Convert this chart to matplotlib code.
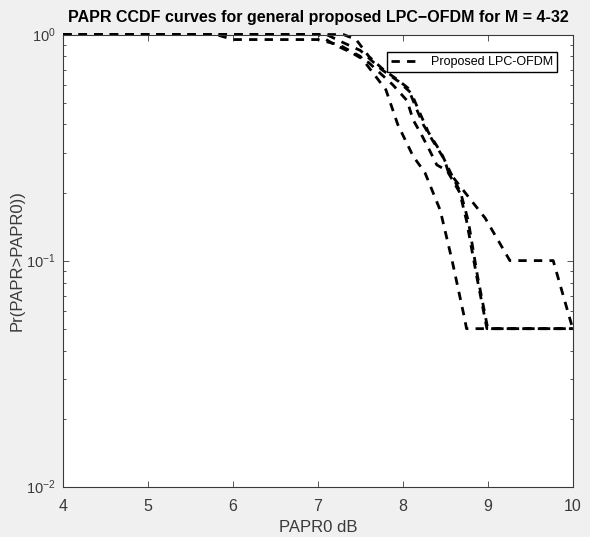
import matplotlib
matplotlib.use("Agg")
import matplotlib.pyplot as plt
from matplotlib.ticker import LogLocator, NullFormatter

plt.rcParams['font.family'] = ['Liberation Sans', 'DejaVu Sans']

# PAPR0 (dB) and CCDF values, one curve per M
papr_m4 = [4, 5.8, 6.0, 7.0, 7.25, 7.5, 7.8, 7.94, 8.12, 8.26, 8.44, 8.58, 8.72, 8.75, 10]
ccdf_m4 = [1, 1, 0.95, 0.95, 0.9, 0.8, 0.57, 0.40, 0.29, 0.245, 0.167, 0.10, 0.057, 0.05, 0.05]

papr_m8 = [4, 7.0, 7.2, 7.4, 7.6, 7.88, 8.05, 8.12, 8.22, 8.31, 8.40, 8.52, 8.67, 8.75, 8.87, 8.99, 10]
ccdf_m8 = [1, 1, 0.9, 0.83, 0.75, 0.60, 0.51, 0.42, 0.36, 0.31, 0.265, 0.25, 0.2, 0.15, 0.085, 0.05, 0.05]

papr_m16 = [4, 7.1, 7.3, 7.5, 7.75, 7.95, 8.1, 8.2, 8.3, 8.45, 8.55, 8.68, 8.77, 8.88, 9.0, 10]
ccdf_m16 = [1, 1, 0.92, 0.85, 0.7, 0.62, 0.55, 0.45, 0.37, 0.3, 0.25, 0.2, 0.15, 0.085, 0.05, 0.05]

papr_m32 = [4, 7.3, 7.45, 7.6, 7.77, 7.94, 8.06, 8.17, 8.24, 8.35, 8.49, 8.53, 8.71, 8.97, 9.26, 9.77, 10]
ccdf_m32 = [1, 1, 0.95, 0.8, 0.7, 0.63, 0.58, 0.46, 0.40, 0.34, 0.28, 0.25, 0.205, 0.154, 0.1, 0.1, 0.05]

curvas = [(papr_m4, ccdf_m4), (papr_m8, ccdf_m8), (papr_m16, ccdf_m16), (papr_m32, ccdf_m32)]

xticks = [4, 5, 6, 7, 8, 9, 10]

gris = "#f0f0f0"
tinta = "#3a3a3a"

fig = plt.figure(figsize=(5.9, 5.37), dpi=100, facecolor=gris)
ax = fig.add_axes([0.107, 0.0937, 0.8637, 0.842])
ax.set_facecolor("white")

for i, (x, y) in enumerate(curvas):
	etiqueta = "Proposed LPC-OFDM" if i == 0 else None
	ax.semilogy(x, y, color="black", linestyle="--", linewidth=2.0,
		dashes=(3, 2.6), label=etiqueta, clip_on=False)

ax.set_xlim(4, 10)
ax.set_ylim(1e-2, 1)
ax.set_xticks(xticks)
ax.yaxis.set_major_locator(LogLocator(base=10, numticks=5))
ax.yaxis.set_minor_locator(LogLocator(base=10, subs=range(2, 10), numticks=20))
ax.yaxis.set_minor_formatter(NullFormatter())

ax.tick_params(which="both", direction="in", top=True, right=True,
	colors=tinta)
ax.tick_params(axis="x", pad=9, labelsize=11.5)
ax.tick_params(axis="y", pad=5.5, labelsize=10.5)
ax.tick_params(which="major", length=4, width=0.6)
ax.tick_params(which="minor", length=2.5, width=0.6)
for s in ax.spines.values():
	s.set_color(tinta)
	s.set_linewidth(0.8)

ax.set_title("PAPR CCDF curves for general proposed LPC\u2212OFDM for M = 4-32",
	fontsize=11.5, fontweight="bold", pad=9)
ax.set_xlabel("PAPR0 dB", fontsize=12, color=tinta, labelpad=4)
ax.set_ylabel("Pr(PAPR>PAPR0))", fontsize=12, color=tinta, labelpad=1)

ax.legend(loc="upper right", bbox_to_anchor=(0.97, 0.962), fontsize=9,
	frameon=True, fancybox=False, edgecolor="black", framealpha=1,
	handlelength=2.0, borderpad=0.35, handletextpad=1.2, borderaxespad=0)

fig.savefig("out.png", dpi=100, facecolor=gris)
